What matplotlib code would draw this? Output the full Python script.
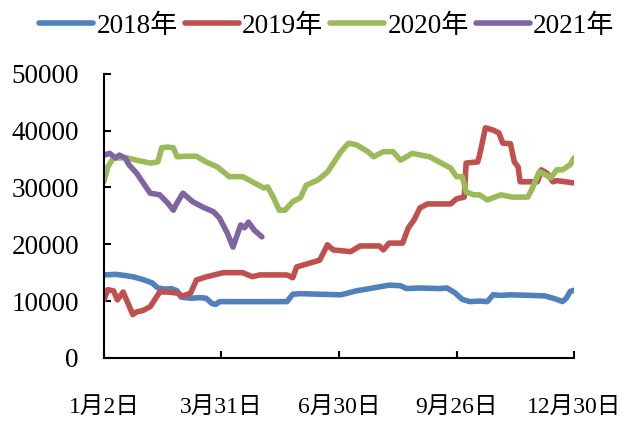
import matplotlib
matplotlib.use('Agg')
import matplotlib.pyplot as plt

plt.rcParams['font.family'] = ['Liberation Serif', 'Noto Sans CJK SC']

# trading-day index : value readings for each year
x2018 = [0, 6, 11, 16, 21, 25, 28, 32, 35, 38, 40, 45, 50, 53, 56, 58, 60, 65, 76, 86, 95,
         98, 102, 112, 123, 131, 138, 148, 154, 157, 164, 174, 178, 182, 186, 190, 195, 199,
         202, 206, 211, 221, 229, 235, 238, 240, 242, 244]
y2018 = [14600, 14700, 14500, 14200, 13700, 13200, 12300, 12100, 12200, 11800, 10700, 10500,
         10600, 10500, 9600, 9400, 9900, 9900, 9900, 9900, 9900, 11200, 11300, 11200, 11100,
         11800, 12200, 12800, 12700, 12200, 12300, 12200, 12300, 11500, 10300, 9900, 10000,
         9900, 11100, 11000, 11100, 11000, 10900, 10300, 9900, 10500, 11700, 11900]

x2019 = [0, 2, 5, 7, 10, 12, 15, 17, 20, 24, 29, 33, 38, 41, 45, 48, 53, 62, 72, 77, 81, 95,
         98, 100, 107, 112, 116, 119, 128, 133, 143, 145, 148, 155, 158, 161, 164, 168, 180,
         183, 187, 188, 194, 195, 198, 202, 205, 207, 211, 213, 215, 216, 225, 227, 230, 233,
         235, 244]
y2019 = [10200, 12000, 11800, 10200, 11600, 10000, 7600, 8100, 8300, 9000, 11600, 11600,
         11400, 10900, 11400, 13700, 14250, 15000, 15000, 14300, 14600, 14600, 14100, 16000,
         16700, 17200, 19900, 19000, 18700, 19700, 19700, 19000, 20200, 20200, 22900, 24300,
         26400, 27100, 27100, 28000, 28300, 34300, 34500, 35700, 40500, 40100, 39600, 37800,
         37700, 34500, 33600, 31000, 31000, 33100, 32500, 31000, 31200, 30800]

x2020 = [0, 2, 5, 12, 17, 24, 28, 30, 33, 36, 38, 43, 48, 53, 59, 65, 72, 77, 83, 85, 88, 91,
         94, 98, 102, 105, 111, 116, 123, 127, 131, 137, 140, 145, 150, 154, 160, 169, 174,
         180, 183, 186, 188, 192, 195, 199, 206, 212, 220, 222, 226, 232, 235, 238, 242, 244]
y2020 = [31000, 33600, 35200, 35200, 34800, 34300, 34500, 37000, 37100, 37000, 35400, 35500,
         35500, 34500, 33600, 31900, 31900, 31000, 29900, 30100, 28200, 26000, 26000, 27500,
         28200, 30400, 31300, 32700, 36300, 37800, 37500, 36300, 35400, 36300, 36300, 34800,
         36000, 35400, 34500, 33400, 31900, 31900, 29200, 28700, 28700, 27800, 28700, 28300,
         28300, 29600, 32800, 31700, 33100, 33100, 34000, 35200]

x2021 = [0, 3, 6, 8, 11, 13, 17, 20, 24, 29, 33, 36, 38, 41, 46, 51, 57, 60, 64, 67, 71, 73,
         75, 78, 82]
y2021 = [35700, 36000, 35200, 35700, 35200, 34000, 32500, 31000, 29000, 28700, 27300, 26000,
         27300, 29000, 27500, 26600, 25700, 24600, 22000, 19500, 23400, 22900, 23900, 22500,
         21300]

tick_pos = [0, 61, 122, 183, 244]
tick_labels = ['1月2日', '3月31日', '6月30日', '9月26日', '12月30日']

fig = plt.figure(figsize=(6.26, 4.22), dpi=100)
ax = fig.add_axes([0.166, 0.152, 0.751, 0.673])

ax.plot(x2018, y2018, color='#4F81BD', lw=4, label='2018年', solid_capstyle='round')
ax.plot(x2019, y2019, color='#C0504D', lw=4, label='2019年', solid_capstyle='round')
ax.plot(x2020, y2020, color='#9BBB59', lw=4, label='2020年', solid_capstyle='round')
ax.plot(x2021, y2021, color='#8064A2', lw=4, label='2021年', solid_capstyle='round')

ax.set_xlim(0, 244)
ax.set_ylim(0, 50000)
ax.set_yticks(range(0, 50001, 10000))
ax.set_xticks(tick_pos)
ax.set_xticklabels(tick_labels)

for s in ['top', 'right']:
    ax.spines[s].set_visible(False)
for s in ['left', 'bottom']:
    ax.spines[s].set_linewidth(1.5)

ax.tick_params(axis='y', direction='in', length=5, width=1.5, pad=18, labelsize=19.5)
ax.tick_params(axis='x', direction='in', length=5, width=1.5, pad=28, labelsize=17)

fig.legend(loc='upper center', bbox_to_anchor=(0.522, 1.025), ncol=4, frameon=False,
           fontsize=19.5, handlelength=2.0, handletextpad=0.12, columnspacing=0.25)

fig.savefig('out.png', dpi=100)
